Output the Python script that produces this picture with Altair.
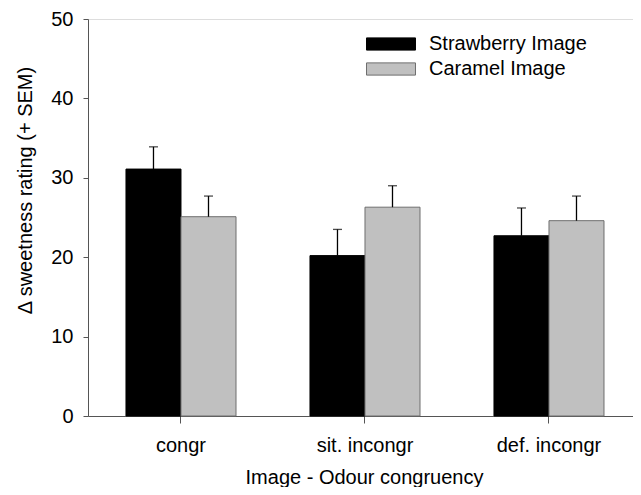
import altair as alt
import pandas as pd

categories = ["congr", "sit. incongr", "def. incongr"]
series = ["Strawberry Image", "Caramel Image"]
strawberry = [31.1, 20.2, 22.7]
strawberry_upper = [33.9, 23.5, 26.2]
caramel = [25.1, 26.3, 24.6]
caramel_upper = [27.7, 29.0, 27.7]

rows = []
for i, c in enumerate(categories):
    rows.append({"cat": c, "img": series[0], "val": strawberry[i], "up": strawberry_upper[i]})
    rows.append({"cat": c, "img": series[1], "val": caramel[i], "up": caramel_upper[i]})
df = pd.DataFrame(rows)

FONT = "Liberation Sans"
FS = 20

x = alt.X("cat:N", sort=categories,
          scale=alt.Scale(paddingInner=0.402, paddingOuter=0.182, align=0.567),
          axis=alt.Axis(title="Image - Odour congruency", labelAngle=0,
                        labelFontSize=FS, titleFontSize=FS, labelFont=FONT, titleFont=FONT,
                        labelColor="#000", titleColor="#000", titleFontWeight="normal",
                        domainColor="#555", tickColor="#555", tickSize=7,
                        labelPadding=12, titlePadding=12, titleX=276))
xo = alt.XOffset("img:N", sort=series, scale=alt.Scale(paddingInner=0, paddingOuter=0))

bars = alt.Chart(df).mark_bar(strokeWidth=1).encode(
    x=x, xOffset=xo,
    y=alt.Y("val:Q", scale=alt.Scale(domain=[0, 50]),
            axis=alt.Axis(title="Δ sweetness rating (+ SEM)", values=[0, 10, 20, 30, 40, 50],
                          labelFontSize=FS, titleFontSize=FS, labelFont=FONT, titleFont=FONT,
                          labelColor="#000", titleColor="#000", titleFontWeight="normal",
                          domainColor="#555", tickColor="#555", tickSize=5,
                          labelPadding=10, titlePadding=15, titleY=171, grid=False)),
    color=alt.Color("img:N", sort=series,
                    scale=alt.Scale(domain=series, range=["#000000", "#c0c0c0"]),
                    legend=alt.Legend(title=None, orient="none", legendX=290, legendY=12,
                                      symbolType="M-2,-0.5H2V0.5H-2Z", symbolSize=600,
                                      symbolStrokeColor="#555", symbolStrokeWidth=1,
                                      symbolOpacity=1,
                                      labelFontSize=FS, labelFont=FONT, labelColor="#000",
                                      labelOffset=25, rowPadding=2, padding=0)),
    stroke=alt.Stroke("img:N", sort=series,
                      scale=alt.Scale(domain=series, range=["#000000", "#6e6e6e"]), legend=None),
)

rules = alt.Chart(df).mark_rule(color="#000", strokeWidth=1.3).encode(
    x=x, xOffset=xo, y="val:Q", y2="up:Q")
caps = alt.Chart(df).mark_tick(color="#000", thickness=1.3, size=9, orient="horizontal").encode(
    x=x, xOffset=xo, y="up:Q")

chart = (bars + rules + caps).properties(
    width=545, height=397,
    autosize=alt.AutoSizeParams(type="none"),
    padding={"left": 80, "top": 11, "right": 0, "bottom": 71},
).configure_view(stroke="#555", strokeWidth=1).configure(background="white")

chart.save("out.html", embed_options={"renderer": "svg", "actions": False})
